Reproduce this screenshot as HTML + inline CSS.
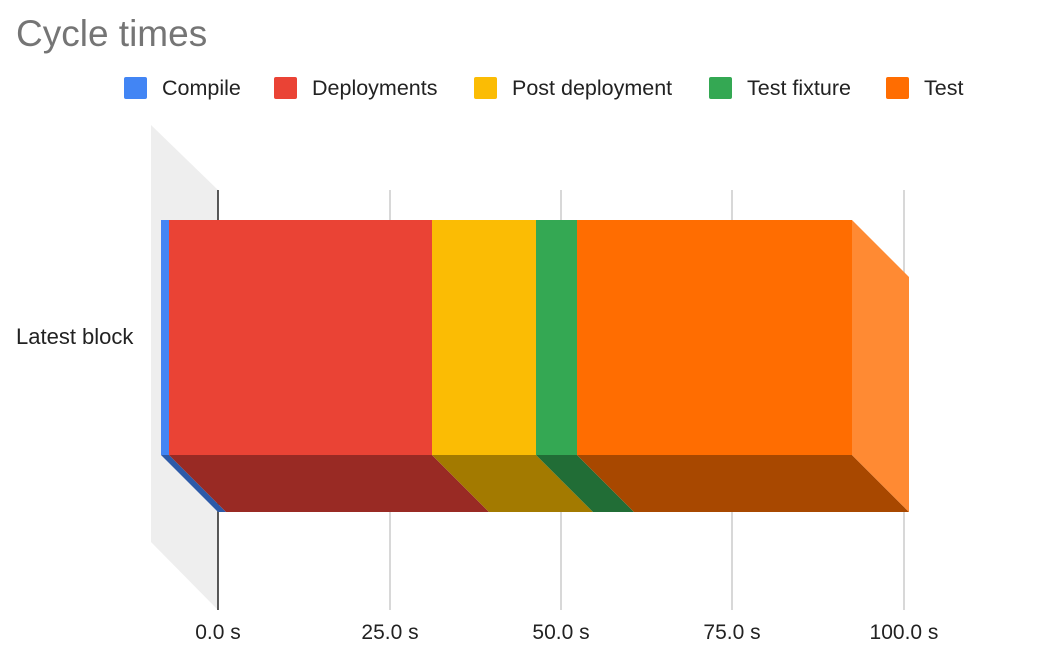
<!DOCTYPE html>
<html><head><meta charset="utf-8"><style>
html,body{margin:0;padding:0;background:#fff;}
svg{display:block;font-family:"Liberation Sans",Arial,sans-serif;}
</style></head><body>
<svg width="1038" height="666" viewBox="0 0 1038 666" xmlns="http://www.w3.org/2000/svg">
<text x="16" y="46" font-size="37" fill="#757575">Cycle times</text>
<g font-size="21.5" fill="#222">
<rect x="124" y="77" width="23" height="22" rx="2" fill="#4285f4"/><text x="162" y="95">Compile</text>
<rect x="274" y="77" width="23" height="22" rx="2" fill="#ea4335"/><text x="312" y="95">Deployments</text>
<rect x="474" y="77" width="23" height="22" rx="2" fill="#fbbc04"/><text x="512" y="95">Post deployment</text>
<rect x="709" y="77" width="23" height="22" rx="2" fill="#34a853"/><text x="747" y="95">Test fixture</text>
<rect x="886" y="77" width="23" height="22" rx="2" fill="#ff6d01"/><text x="924" y="95">Test</text>
</g>
<polygon points="151,125 218,190 218,610 151,542" fill="#eeeeee"/>
<g stroke="#cccccc" stroke-width="1.5">
<line x1="390" y1="190" x2="390" y2="610"/>
<line x1="561" y1="190" x2="561" y2="610"/>
<line x1="732" y1="190" x2="732" y2="610"/>
<line x1="904" y1="190" x2="904" y2="610"/>
</g>
<line x1="218" y1="190" x2="218" y2="610" stroke="#222" stroke-width="1.5"/>
<polygon points="161,455 169,455 226,512 218,512" fill="#2d5aa8"/>
<polygon points="169,455 432,455 489,512 226,512" fill="#992a24"/>
<polygon points="432,455 536,455 593,512 489,512" fill="#a37a00"/>
<polygon points="536,455 577,455 634,512 593,512" fill="#216d36"/>
<polygon points="577,455 852,455 909,512 634,512" fill="#a84800"/>
<polygon points="852,220 909,277 909,512 852,455" fill="#ff8a33"/>
<rect x="161" y="220" width="8" height="235" fill="#4285f4"/>
<rect x="169" y="220" width="263" height="235" fill="#ea4335"/>
<rect x="432" y="220" width="104" height="235" fill="#fbbc04"/>
<rect x="536" y="220" width="41" height="235" fill="#34a853"/>
<rect x="577" y="220" width="275" height="235" fill="#ff6d01"/>
<text x="16" y="344" font-size="22" fill="#222">Latest block</text>
<g font-size="21" fill="#222" text-anchor="middle">
<text x="218" y="639">0.0 s</text>
<text x="390" y="639">25.0 s</text>
<text x="561" y="639">50.0 s</text>
<text x="732" y="639">75.0 s</text>
<text x="904" y="639">100.0 s</text>
</g>
</svg>
</body></html>
